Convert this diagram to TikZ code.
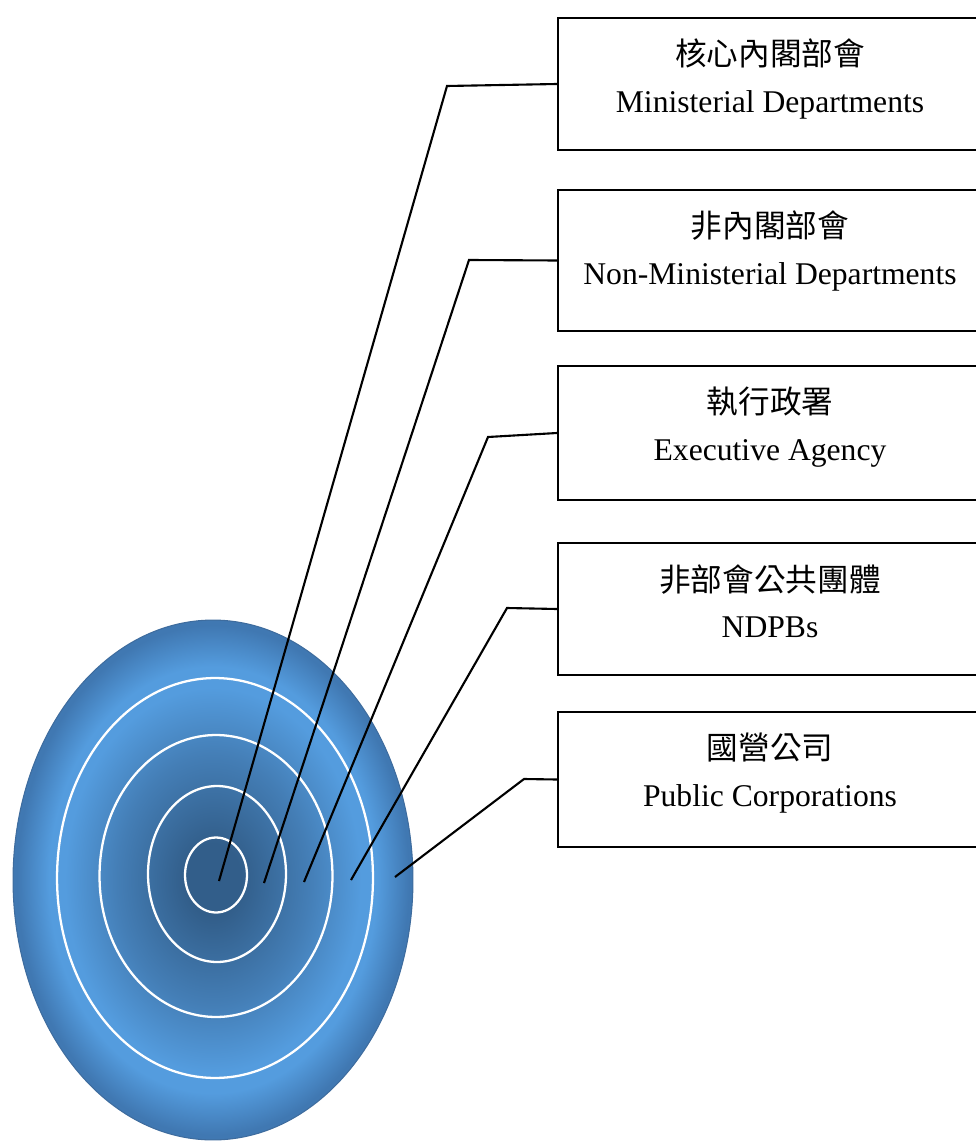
\documentclass[tikz,border=0pt]{standalone}
\usepackage{fontspec}
\setmainfont{Liberation Serif}
\newfontfamily\cjk{Noto Sans CJK TC}
\usepackage{tikz}
\usetikzlibrary{positioning}
\usetikzlibrary{shapes.geometric}

\definecolor{tcore}{RGB}{50,94,138}
\definecolor{tmid}{RGB}{68,126,182}
\definecolor{tlight}{RGB}{84,156,222}
\definecolor{tedge}{RGB}{64,120,178}
\definecolor{trim}{RGB}{62,108,158}

\pgfdeclareradialshading{target}{\pgfpoint{0bp}{0bp}}{%
  color(0bp)=(tcore); color(3.5bp)=(tcore); color(12bp)=(tmid);
  color(18.5bp)=(tlight); color(20.5bp)=(tlight); color(24.5bp)=(tedge); color(50bp)=(tedge)}

\begin{document}
\begin{tikzpicture}[x=0.02cm, y=-0.02cm,
    box/.style = {draw, line width=1.2pt, minimum width=8.48cm, inner sep=0pt},
    caption/.style = {align=center, inner sep=0pt, font=\fontsize{18pt}{26.4pt}\selectfont},
    ring/.style = {ellipse, draw=white, line width=1.3pt, inner sep=0pt},
    link/.style = {line width=1.2pt}]
    \useasboundingbox (0,0) rectangle (975,1145);

    % the target and its rings
    \node[ellipse, shading=target, draw=trim, line width=0.6pt, minimum width=8cm, minimum height=10.4cm, inner sep=0pt] (disc) at (213,880) {};
    \node[ring, minimum width=6.32cm, minimum height=8cm] (ring4) at (215,878) {};
    \node[ring, minimum width=4.66cm, minimum height=5.64cm] (ring3) at (216,876) {};
    \node[ring, minimum width=2.76cm, minimum height=3.52cm] (ring2) at (217,874) {};
    \node[ring, minimum width=1.24cm, minimum height=1.5cm] (core) at (216,875) {};

    % boxes on the right
    \node[box, minimum height=2.64cm] (md) at (770,84) {};
    \node[box, minimum height=2.82cm] (nmd) at (770,260.5) {};
    \node[box, minimum height=2.68cm] (ea) at (770,433) {};
    \node[box, minimum height=2.64cm] (ndpb) at (770,609) {};
    \node[box, minimum height=2.70cm] (pc) at (770,779.5) {};

    \node[caption] (md-text) [below=0.44cm of md.north] {{\cjk 核心內閣部會}\\Ministerial Departments};
    \node[caption] (nmd-text) [below=0.44cm of nmd.north] {{\cjk 非內閣部會}\\Non-Ministerial Departments};
    \node[caption] (ea-text) [below=0.44cm of ea.north] {{\cjk 執行政署}\\Executive Agency};
    \node[caption] (ndpb-text) [below=0.44cm of ndpb.north] {{\cjk 非部會公共團體}\\NDPBs};
    \node[caption] (pc-text) [below=0.44cm of pc.north] {{\cjk 國營公司}\\Public Corporations};

    % where the leaders start and bend
    \coordinate (tip-md) at (219,881);
    \coordinate (tip-nmd) at (264,883);
    \coordinate (tip-ea) at (304,882);
    \coordinate (tip-ndpb) at (351,880);
    \coordinate (tip-pc) at (395,877);
    \coordinate (bend-md) at (447,86);
    \coordinate (bend-nmd) at (469,260);
    \coordinate (bend-ea) at (488,437);
    \coordinate (bend-ndpb) at (507,608);
    \coordinate (bend-pc) at (524,779);

    \draw[link] (tip-md) -- (bend-md) -- (md.west);
    \draw[link] (tip-nmd) -- (bend-nmd) -- (nmd.west);
    \draw[link] (tip-ea) -- (bend-ea) -- (ea.west);
    \draw[link] (tip-ndpb) -- (bend-ndpb) -- (ndpb.west);
    \draw[link] (tip-pc) -- (bend-pc) -- (pc.west);
\end{tikzpicture}
\end{document}
